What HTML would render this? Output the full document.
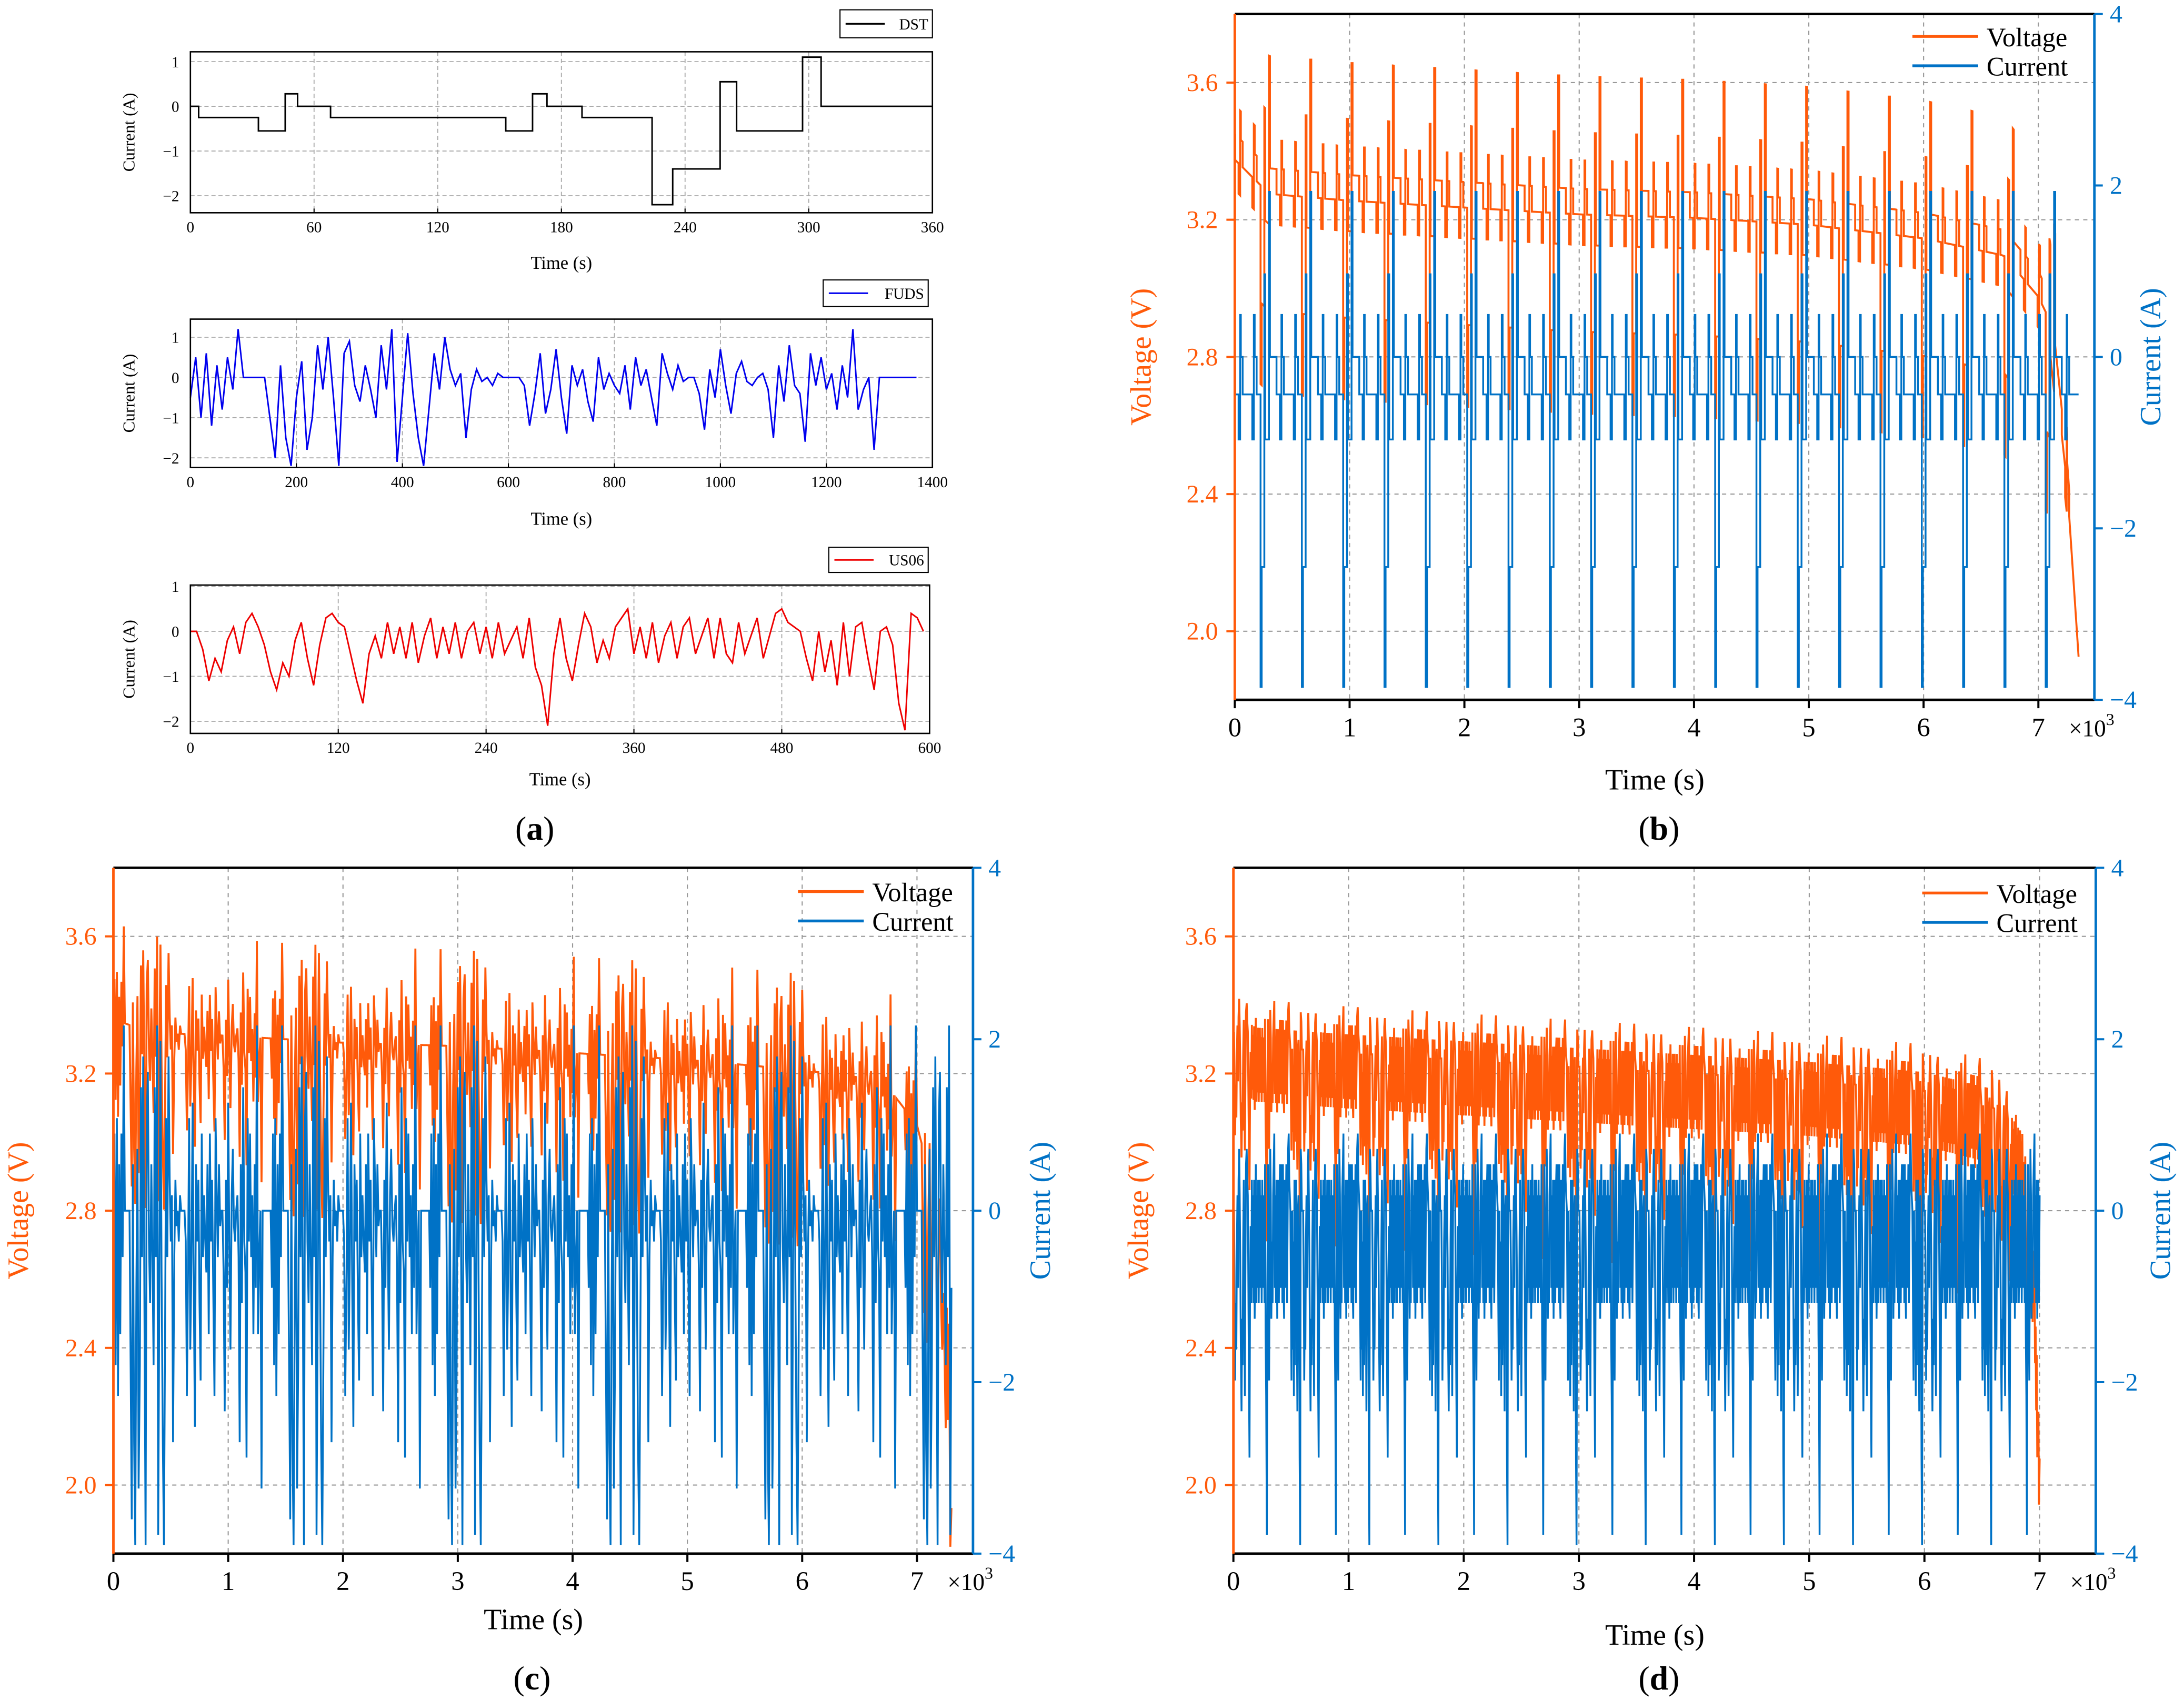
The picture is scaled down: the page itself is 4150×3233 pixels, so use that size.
<!DOCTYPE html>
<html><head><meta charset="utf-8"><style>
html,body{margin:0;padding:0;background:#fff}
svg{display:block;font-family:"Liberation Serif","Times New Roman","DejaVu Serif",serif}
text,tspan{font-family:"Liberation Serif","Times New Roman","DejaVu Serif",serif}
</style></head><body>
<svg id="chart" width="4150" height="3233" viewBox="0 0 1560 1215.3" preserveAspectRatio="none" xmlns="http://www.w3.org/2000/svg"></svg>
<script>
// ---------- data ----------
const dstStepStarts = [0,4,33,46,52,68,153,166,173,190,224,234,257,265,297,306];
const dstStepValues = [0,-0.25,-0.55,0.28,0,-0.25,-0.55,0.28,0,-0.25,-2.2,-1.4,0.55,-0.55,1.1,0];
const dstPeriod = [360];
const fudsValues = [-0.5,0.5,-1.0,0.6,-1.2,0.3,-0.8,0.5,-0.3,1.2,
0,0,0,0,0,-1.0,-2.0,0.3,-1.5,-2.2,
-0.5,0.4,-1.8,-1.0,0.8,-0.3,1.0,-0.5,-2.2,0.6,
0.9,-0.2,-0.6,0.3,-0.3,-1.0,0.8,-0.3,1.2,-2.1,
-0.5,1.1,-0.4,-1.5,-2.2,-0.8,0.6,-0.3,1.0,0.2,
-0.2,0.1,-1.5,-0.3,0.2,-0.1,0,-0.2,0.1,0,
0,0,0,-0.2,-1.2,-0.4,0.6,-0.9,-0.3,0.7,
-0.5,-1.4,0.3,-0.2,0.2,-0.6,-1.1,0.5,-0.3,0.1,
-0.2,-0.4,0.3,-0.8,0.5,-0.2,0.2,-0.5,-1.2,0.6,
0.1,-0.3,0.3,-0.1,0,0,-0.4,-1.3,0.2,-0.5,
0.7,-0.2,-0.9,0.1,0.4,-0.1,-0.2,0,0.1,-0.3,
-1.5,0.3,-0.6,0.8,-0.2,-0.4,-1.6,0.6,-0.2,0.5,
-0.3,0.1,-0.8,0.3,-0.5,1.2,-0.8,-0.3,0,-1.8,
0,0,0,0,0,0,0,0];
const fudsStep = [10];
const us06Values = [0,0,-0.4,-1.1,-0.6,-0.9,-0.2,0.1,-0.5,0.2,0.4,0.1,
-0.3,-0.9,-1.3,-0.7,-1.0,-0.2,0.2,-0.6,-1.2,-0.3,0.3,0.4,
0.2,0.1,-0.5,-1.1,-1.6,-0.5,-0.1,-0.6,0.2,-0.5,0.1,-0.6,
0.2,-0.7,-0.1,0.3,-0.6,0.1,-0.5,0.2,-0.6,0,0.2,-0.5,
0.1,-0.6,0.2,-0.5,-0.2,0.1,-0.6,0.3,-0.8,-1.2,-2.1,-0.5,
0.3,-0.6,-1.1,-0.3,0.4,0.1,-0.7,-0.2,-0.6,0.1,0.3,0.5,
-0.5,0.1,-0.6,0.2,-0.7,-0.1,0.2,-0.6,0.1,0.3,-0.5,-0.1,
0.3,-0.6,0.3,-0.5,-0.7,0.2,-0.5,-0.1,0.3,-0.6,-0.1,0.4,
0.5,0.2,0.1,0,-0.6,-1.1,0,-0.9,-0.2,-1.2,0.2,-1.0,
0.1,0.2,-0.6,-1.3,0,0.1,-0.3,-1.6,-2.2,0.4,0.3,0];
const us06Step = [5];
const bBaseT = [0,300,1000,2000,3000,4000,5000,6000,6700,7000,7100,7250,7350];
const bBaseV = [3.45,3.35,3.33,3.31,3.29,3.28,3.26,3.22,3.17,3.05,2.98,2.5,2.0];
const cBaseT = [0,300,1000,2000,3000,4000,5000,6000,6700,7000,7150,7250,7300];
const cBaseV = [3.36,3.32,3.31,3.29,3.28,3.26,3.24,3.21,3.18,3.05,2.85,2.4,2.05];
const dBaseT = [0,200,1000,2000,3000,4000,5000,6000,6600,6850,6950,7000];
const dBaseV = [3.32,3.28,3.26,3.24,3.22,3.20,3.18,3.15,3.10,2.97,2.6,2.05];
const testEnds = [7350,7300,7000];
const currentScale = [1.75,1.8,1.8];
const resistance = [0.17,0.13,0.15];
const xTicks = [0,1,2,3,4,5,6,7];
const vTicks = [2.0,2.4,2.8,3.2,3.6];
const iTicks = [-4,-2,0,2,4];

// ---------- helpers ----------
const NS='http://www.w3.org/2000/svg';
const svg=document.getElementById('chart');
const SERIF='"Liberation Serif","Times New Roman","DejaVu Serif",serif';
function mk(tag,attrs,name,parent,txt){
  const e=document.createElementNS(NS,tag);
  for(const k in attrs)e.setAttribute(k,attrs[k]);
  
  
  if(tag==='text')e.style.fontFamily=SERIF;
  if(txt!==undefined)e.textContent=txt;
  (parent||svg).appendChild(e);return e;
}
function lin(d0,d1,r0,r1){return v=>r0+(v-d0)*(r1-r0)/(d1-d0);}
function interp(T,V,t){if(t<=T[0])return V[0];for(let i=1;i<T.length;i++){if(t<=T[i])return V[i-1]+(V[i]-V[i-1])*(t-T[i-1])/(T[i]-T[i-1]);}return V[V.length-1];}
const ORANGE='#ff5a0a',BLUE='#0072c6';

// ---------- panel (a) ----------
function smallPanel(name,box,xmax,xtickArr,ymin,ymax,pts,color,legend,legBox,xlabY){
  const g=mk('g',{},name);
  const sx=lin(0,xmax,box[0],box[2]),sy=lin(ymin,ymax,box[3],box[1]);
  xtickArr.forEach(t=>{
    if(t>0&&t<xmax)mk('line',{x1:sx(t),x2:sx(t),y1:box[1],y2:box[3],stroke:'#aaa','stroke-width':0.7,'stroke-dasharray':'3,2'},'x-grid-line',g);
    mk('line',{x1:sx(t),x2:sx(t),y1:box[3],y2:box[3]-3,stroke:'#000','stroke-width':0.8},'x-tick',g);
    mk('text',{x:sx(t),y:box[3]+14,'font-size':11,'text-anchor':'middle'},'x-tick-label',g,String(t));
  });
  [-2,-1,0,1].forEach(t=>{
    const y=sy(t);if(y<box[1]-1||y>box[3]+1)return;
    mk('line',{x1:box[0],x2:box[2],y1:y,y2:y,stroke:'#aaa','stroke-width':0.7,'stroke-dasharray':'3,2'},'y-grid-line',g);
    mk('text',{x:box[0]-8,y:y+4,'font-size':11,'text-anchor':'end'},'y-tick-label',g,String(t).replace('-','−'));
  });
  mk('polyline',{points:pts.map(p=>sx(p[0]).toFixed(2)+','+sy(p[1]).toFixed(2)).join(' '),fill:'none',stroke:color,'stroke-width':1.1},'current-line',g);
  mk('rect',{x:box[0],y:box[1],width:box[2]-box[0],height:box[3]-box[1],fill:'none',stroke:'#000','stroke-width':1},'plot-frame',g);
  mk('text',{x:(box[0]+box[2])/2,y:xlabY,'font-size':13,'text-anchor':'middle'},'x-axis-title',g,'Time (s)');
  mk('text',{x:0,y:0,'font-size':12,'text-anchor':'middle',transform:`translate(96,${(box[1]+box[3])/2}) rotate(-90)`},'y-axis-title',g,'Current (A)');
  mk('rect',{x:legBox[0],y:legBox[1],width:legBox[2]-legBox[0],height:legBox[3]-legBox[1],fill:'#fff',stroke:'#000','stroke-width':0.8},'legend-box',g);
  const ly=(legBox[1]+legBox[3])/2;
  mk('line',{x1:legBox[0]+4,x2:legBox[0]+32,y1:ly,y2:ly,stroke:color,'stroke-width':1.2},'legend-swatch',g);
  mk('text',{x:legBox[2]-3,y:ly+4,'font-size':11,'text-anchor':'end'},'legend-label',g,legend);
}
const dstPts=[];
dstStepStarts.forEach((s,i)=>{const e=i<dstStepStarts.length-1?dstStepStarts[i+1]:dstPeriod[0];dstPts.push([s,dstStepValues[i]],[e,dstStepValues[i]]);});
smallPanel('dst-panel',[136,37,666,152],360,[0,60,120,180,240,300,360],-2.38,1.22,dstPts,'#000','DST',[600,7,666,27],192);
const fudsPts=fudsValues.map((v,i)=>[i*fudsStep[0],v]);
smallPanel('fuds-panel',[136,228,666,334],1400,[0,200,400,600,800,1000,1200,1400],-2.24,1.45,fudsPts,'#0000ee','FUDS',[588,200,663,219],375);
const us06Pts=us06Values.map((v,i)=>[i*us06Step[0],v]);
smallPanel('us06-panel',[136,418,664,524],600,[0,120,240,360,480,600],-2.27,1.03,us06Pts,'#ee0000','US06',[592,391,663,409],561);
const La=mk('text',{x:382,y:600,'font-size':24,'text-anchor':'middle'},'panel-label-a',svg,'(');
mk('tspan',{'font-weight':'bold'},'panel-letter',La,'a');
mk('tspan',{},'panel-paren',La,')');

// ---------- big panels ----------
function bigPanel(name,box,I,V,legPos,xlabY,labPos,letter,ylx){
  const g=mk('g',{},name);
  const sx=lin(0,7488,box[0],box[2]);
  const sv=lin(1.8,3.8,box[3],box[1]);
  const si=lin(-4,4,box[3],box[1]);
  xTicks.forEach(t=>{
    const x=sx(t*1000);
    if(t>0)mk('line',{x1:x,x2:x,y1:box[1],y2:box[3],stroke:'#999','stroke-width':0.8,'stroke-dasharray':'3,3'},'x-grid-line',g);
    mk('line',{x1:x,x2:x,y1:box[3],y2:box[3]+6,stroke:'#000','stroke-width':1.5},'x-tick',g);
    mk('text',{x:x,y:box[3]+26,'font-size':19,'text-anchor':'middle'},'x-tick-label',g,String(t));
  });
  const sci=mk('text',{x:box[2]-2,y:box[3]+26,'font-size':17,'text-anchor':'middle'},'x-scale-label',g,'×10');
  mk('tspan',{dy:-8,'font-size':12},'x-scale-exponent',sci,'3');
  vTicks.forEach(t=>{
    const y=sv(t);
    mk('line',{x1:box[0],x2:box[2],y1:y,y2:y,stroke:'#999','stroke-width':0.8,'stroke-dasharray':'3,3'},'y-grid-line',g);
    mk('line',{x1:box[0]-6,x2:box[0],y1:y,y2:y,stroke:ORANGE,'stroke-width':1.5},'voltage-tick',g);
    mk('text',{x:box[0]-12,y:y+6,'font-size':18,'text-anchor':'end',fill:ORANGE},'voltage-tick-label',g,t.toFixed(1));
  });
  iTicks.forEach(t=>{
    const y=si(t);
    mk('line',{x1:box[2],x2:box[2]+6,y1:y,y2:y,stroke:BLUE,'stroke-width':1.5},'current-tick',g);
    mk('text',{x:box[2]+11,y:y+6,'font-size':18,'text-anchor':'start',fill:BLUE},'current-tick-label',g,String(t).replace('-','−'));
  });
  mk('polyline',{points:V.map(p=>sx(p[0]).toFixed(1)+','+sv(Math.max(1.82,p[1])).toFixed(1)).join(' '),fill:'none',stroke:ORANGE,'stroke-width':1.4},'voltage-line',g);
  mk('polyline',{points:I.map(p=>sx(p[0]).toFixed(1)+','+si(Math.max(-3.9,p[1])).toFixed(1)).join(' '),fill:'none',stroke:BLUE,'stroke-width':1.3},'current-line',g);
  mk('line',{x1:box[0],x2:box[2],y1:box[1],y2:box[1],stroke:'#000','stroke-width':1.8},'top-spine',g);
  mk('line',{x1:box[0],x2:box[2],y1:box[3],y2:box[3],stroke:'#000','stroke-width':1.8},'bottom-spine',g);
  mk('line',{x1:box[0],x2:box[0],y1:box[1],y2:box[3],stroke:ORANGE,'stroke-width':1.8},'voltage-axis-spine',g);
  mk('line',{x1:box[2],x2:box[2],y1:box[1],y2:box[3],stroke:BLUE,'stroke-width':1.8},'current-axis-spine',g);
  const [lx,ly]=legPos;
  mk('line',{x1:lx,x2:lx+47,y1:ly,y2:ly,stroke:ORANGE,'stroke-width':2},'legend-voltage-swatch',g);
  mk('text',{x:lx+53,y:ly+7,'font-size':19},'legend-voltage-label',g,'Voltage');
  mk('line',{x1:lx,x2:lx+47,y1:ly+21,y2:ly+21,stroke:BLUE,'stroke-width':2},'legend-current-swatch',g);
  mk('text',{x:lx+53,y:ly+28,'font-size':19},'legend-current-label',g,'Current');
  const cy=(box[1]+box[3])/2;
  mk('text',{x:0,y:0,'font-size':21,'text-anchor':'middle',fill:ORANGE,transform:`translate(${ylx[0]},${cy}) rotate(-90)`},'voltage-axis-title',g,'Voltage (V)');
  mk('text',{x:0,y:0,'font-size':21,'text-anchor':'middle',fill:BLUE,transform:`translate(${ylx[1]},${cy}) rotate(-90)`},'current-axis-title',g,'Current (A)');
  mk('text',{x:(box[0]+box[2])/2-7,y:xlabY,'font-size':21,'text-anchor':'middle'},'x-axis-title',g,'Time (s)');
  const L=mk('text',{x:labPos[0],y:labPos[1],'font-size':24,'text-anchor':'middle'},'panel-label',g,'(');
  mk('tspan',{'font-weight':'bold'},'panel-letter',L,letter);
  mk('tspan',{},'panel-paren',L,')');
}
function buildDST(end,scale,R,BT,BV){
  const I=[],V=[];
  for(let c=0;c*dstPeriod[0]<end;c++){
    dstStepStarts.forEach((s,i)=>{
      const e=i<dstStepStarts.length-1?dstStepStarts[i+1]:dstPeriod[0];
      const t0=c*dstPeriod[0]+s,t1=Math.min(end,c*dstPeriod[0]+e);
      if(t0>=end)return;
      const cur=dstStepValues[i]*scale;
      I.push([t0,cur],[t1,cur]);
      V.push([t0,interp(BT,BV,t0)+R*cur],[t1,interp(BT,BV,t1)+R*cur]);
    });
  }
  return [I,V];
}
function buildProfile(vals,step,end,scale,R,BT,BV){
  const I=[],V=[];const per=vals.length*step;
  for(let t=0;t<=end;t+=step){
    const cur=vals[Math.round((t%per)/step)%vals.length]*scale;
    I.push([t,cur]);V.push([t,interp(BT,BV,t)+R*cur]);
  }
  return [I,V];
}
const [bI,bV]=buildDST(testEnds[0],currentScale[0],resistance[0],bBaseT,bBaseV);
bigPanel('panel-b',[882,10,1496,500],bI,bV,[1366,26],564,[1185,600],'b',[822,1543]);
const [cI,cV]=buildProfile(fudsValues,fudsStep[0],testEnds[1],currentScale[1],resistance[1],cBaseT,cBaseV);
bigPanel('panel-c',[81,620,695,1110],cI,cV,[570,637],1164,[380,1207],'c',[20,750]);
const [dI,dV]=buildProfile(us06Values,us06Step[0],testEnds[2],currentScale[2],resistance[2],dBaseT,dBaseV);
bigPanel('panel-d',[881,620,1497,1110],dI,dV,[1373,638],1175,[1185,1207],'d',[820,1550]);
</script>
</body></html>
